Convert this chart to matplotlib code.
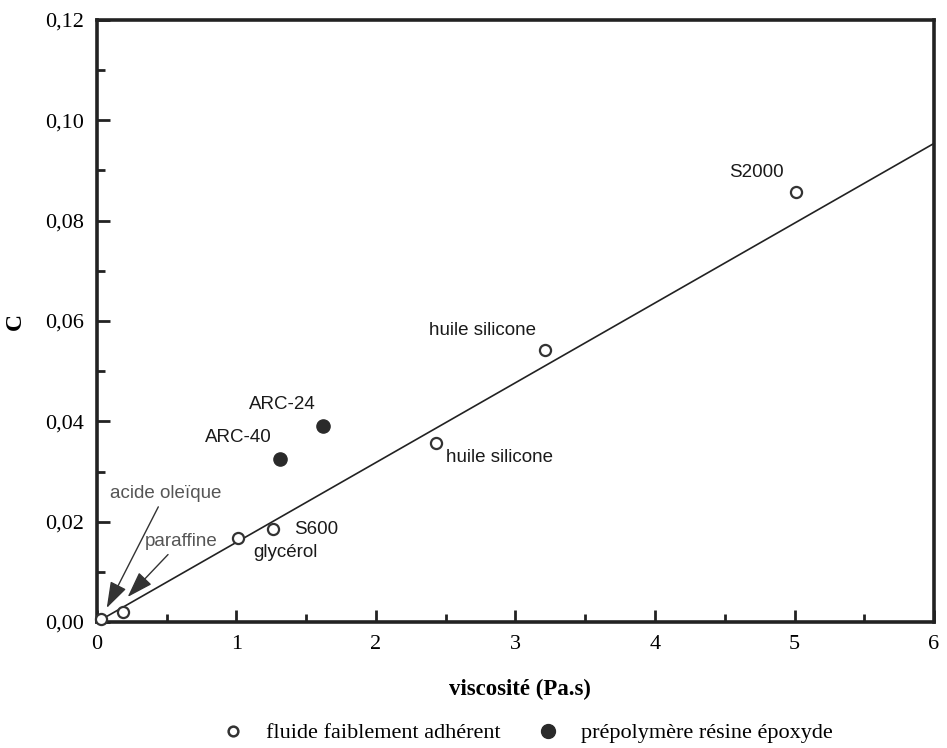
import matplotlib
matplotlib.use('Agg')
import matplotlib.pyplot as plt
from matplotlib.ticker import MultipleLocator, FuncFormatter
from matplotlib.lines import Line2D

plt.rcParams.update({
    'font.family': ['Liberation Serif', 'DejaVu Serif'],
    'font.size': 16,
})

# === 数据 ===
# fluide faiblement adhérent (open circles)
fluid_names = ['acide oleïque', 'paraffine', 'glycérol', 'S600',
               'huile silicone', 'huile silicone', 'S2000']
fluid_visc = [0.03, 0.19, 1.01, 1.26, 2.43, 3.21, 5.01]
fluid_c = [0.0007, 0.0020, 0.0168, 0.0185, 0.0357, 0.0543, 0.0857]

# prépolymère résine époxyde (filled circles)
epoxy_names = ['ARC-40', 'ARC-24']
epoxy_visc = [1.31, 1.62]
epoxy_c = [0.0325, 0.0390]

# droite de régression C = a * viscosité
fit_x = [0.0, 6.0]
fit_slope = 0.0159

SANS = ['Liberation Sans', 'DejaVu Sans']

fig = plt.figure(figsize=(9.47, 7.48), dpi=100)
ax = fig.add_axes([0.1024, 0.1684, 0.8839, 0.8049])

# droite
ax.plot(fit_x, [fit_slope * v for v in fit_x], color='#222222', lw=1.2,
        zorder=2, clip_on=False)

# points
ax.plot(fluid_visc, fluid_c, 'o', ms=8, mfc='white', mec='#333333', mew=1.6,
        zorder=3, clip_on=False)
ax.plot(epoxy_visc, epoxy_c, 'o', ms=9.5, mfc='#2a2a2a', mec='#2a2a2a',
        zorder=3)

# === étiquettes ===
lab = dict(fontsize=13.5, family=SANS, color='#1a1a1a')
ax.text(1.35, 0.0138, 'glycérol', ha='center', va='center', **lab)
ax.text(1.41, 0.0184, 'S600', ha='left', va='center', **lab)
ax.text(2.50, 0.0327, 'huile silicone', ha='left', va='center', **lab)
ax.text(2.76, 0.0582, 'huile silicone', ha='center', va='center', **lab)
ax.text(4.73, 0.0896, 'S2000', ha='center', va='center', **lab)
ax.text(1.01, 0.0367, 'ARC-40', ha='center', va='center', **lab)
ax.text(1.33, 0.0433, 'ARC-24', ha='center', va='center', **lab)

arrow = dict(arrowstyle='-|>,head_width=0.4,head_length=1.2',
             color='#333333', lw=1.0, shrinkA=2, shrinkB=0)
ax.annotate('acide oleïque', xy=(0.07, 0.0028), xytext=(0.49, 0.0257),
            ha='center', va='center', fontsize=13.5, family=SANS,
            color='#555555', arrowprops=arrow)
ax.annotate('paraffine', xy=(0.22, 0.0050), xytext=(0.60, 0.0161),
            ha='center', va='center', fontsize=13.5, family=SANS,
            color='#555555', arrowprops=arrow)

# === axes ===
ax.set_xlim(0, 6)
ax.set_ylim(0, 0.12)
ax.xaxis.set_major_locator(MultipleLocator(1))
ax.xaxis.set_minor_locator(MultipleLocator(0.5))
ax.yaxis.set_major_locator(MultipleLocator(0.02))
ax.yaxis.set_minor_locator(MultipleLocator(0.01))
ax.xaxis.set_major_formatter(FuncFormatter(lambda v, p: f'{v:.0f}'))
ax.yaxis.set_major_formatter(
    FuncFormatter(lambda v, p: f'{v:.2f}'.replace('.', ',')))
ax.tick_params(which='both', direction='in', top=False, right=False,
               width=2, color='#222222', labelsize=16, pad=9)
ax.tick_params(which='major', length=9)
ax.tick_params(which='minor', length=6)
for s in ax.spines.values():
    s.set_linewidth(2.6)
    s.set_color('#222222')

ax.set_xlabel('viscosité (Pa.s)', fontsize=16.5, fontweight='bold')
ax.xaxis.set_label_coords(0.505, -0.095)
ax.set_ylabel('C', fontsize=17, fontweight='bold', labelpad=14)

# === légende ===
handles = [
    Line2D([], [], ls='none', marker='o', ms=7, mfc='white', mec='#333333',
           mew=1.8),
    Line2D([], [], ls='none', marker='o', ms=10, mfc='#2a2a2a', mec='#2a2a2a'),
]
fig.legend(handles, ['fluide faiblement adhérent', 'prépolymère résine époxyde'],
           loc='center', bbox_to_anchor=(0.551, 0.02), ncol=2, frameon=False,
           fontsize=16, handletextpad=0.5, columnspacing=1.1)

fig.savefig('out.png', dpi=100, facecolor='white')
plt.close()
